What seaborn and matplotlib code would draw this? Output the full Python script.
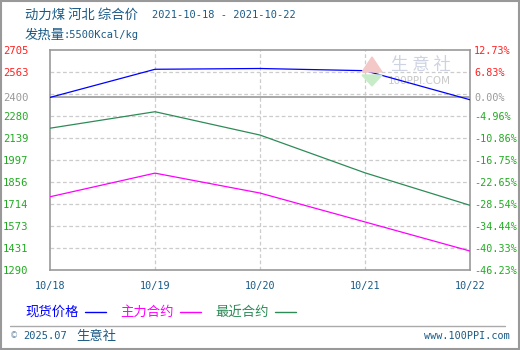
import numpy as np
import pandas as pd
import matplotlib
matplotlib.use("Agg")
import matplotlib.pyplot as plt
from matplotlib.patches import Rectangle, Polygon
import seaborn as sns

# ---- data ----
dates = ["10/18", "10/19", "10/20", "10/21", "10/22"]
spot = [2400, 2581, 2586, 2572, 2385]          # 现货价格
main_contract = [1761, 1913, 1785, 1599, 1412]  # 主力合约
near_contract = [2202, 2308, 2158, 1915, 1706]  # 最近合约
left_labels = ["1290", "1431", "1573", "1714", "1856", "1997",
               "2139", "2280", "2400", "2563", "2705"]
right_labels = ["-46.23%", "-40.33%", "-34.44%", "-28.54%", "-22.65%",
                "-16.75%", "-10.86%", "-4.96%", "0.00%", "6.83%", "12.73%"]
base_price = 2400
y_min, y_max = 1290, 2705

sns.set_style("white")
plt.rcParams["font.family"] = ["DejaVu Sans", "Noto Sans CJK SC"]

W, H = 520, 350
fig = plt.figure(figsize=(W / 100, H / 100), dpi=100)
fig.patch.set_facecolor("white")


def fx(px):
    return px / W


def fy(py):
    return 1 - py / H


ax = fig.add_axes([fx(50), fy(270), fx(420), 220 / H])

df = pd.DataFrame({
    "pos": list(range(len(dates))) * 3,
    "value": spot + main_contract + near_contract,
    "series": ["现货价格"] * 5 + ["主力合约"] * 5 + ["最近合约"] * 5,
})
palette = {"现货价格": "#0000ff", "主力合约": "#ff00ff", "最近合约": "#2e8b57"}

# grid: evenly spaced dashed lines plus the solid base line
grid_vals = np.linspace(y_min, y_max, 11)
for g in grid_vals[1:-1]:
    ax.axhline(g, color="#cccccc", lw=0.9, ls=(0, (3, 2)), zorder=1)
for i in range(1, len(dates) - 1):
    ax.axvline(i, color="#cccccc", lw=0.9, ls=(0, (3, 2)), zorder=1)
ax.axhline(base_price, color="#999999", lw=1.2, zorder=2)

sns.lineplot(data=df, x="pos", y="value", hue="series", palette=palette,
             ax=ax, legend=False, linewidth=0.9, zorder=3)

ax.set_xlim(0, len(dates) - 1)
ax.set_ylim(y_min, y_max)
ax.set_xlabel("")
ax.set_ylabel("")
for s in ax.spines.values():
    s.set_color("#999999")
    s.set_linewidth(1.2)

tick_font = ["DejaVu Sans Mono"]
tick_pos = [float(v) for v in left_labels]


def label_color(v):
    if v > base_price:
        return "#ff2020"
    if v == base_price:
        return "#999999"
    return "#22aa22"


ax.set_yticks(tick_pos)
ax.set_yticklabels(left_labels, family=tick_font, fontsize=7.6)
for t, v in zip(ax.get_yticklabels(), tick_pos):
    t.set_color(label_color(v))
ax.tick_params(axis="y", length=0, pad=15.5)

ax.set_xticks(range(len(dates)))
ax.set_xticklabels(dates, family=tick_font, fontsize=7.3, color="#1a5a86")
ax.tick_params(axis="x", length=0, pad=8)

ax2 = ax.twinx()
ax2.set_ylim(y_min, y_max)
ax2.set_yticks(tick_pos)
ax2.set_yticklabels(right_labels, family=tick_font, fontsize=7.3)
for t, v in zip(ax2.get_yticklabels(), tick_pos):
    t.set_color(label_color(v))
ax2.tick_params(axis="y", length=0, pad=3)
for s in ax2.spines.values():
    s.set_visible(False)

# watermark
ax.text(0.883, 0.93, "生 意 社", transform=ax.transAxes, fontsize=12.5,
        family=["Noto Sans CJK SC"], color="#cdd3e3", ha="center",
        va="center", zorder=0)
ax.text(0.88, 0.86, "100PPI.COM", transform=ax.transAxes, fontsize=7.5,
        color="#c8c8c8", ha="center", va="center", zorder=0)
fig.patches.append(Polygon([[fx(362), fy(72)], [fx(382), fy(72)],
                            [fx(372), fy(57)]], closed=True,
                           transform=fig.transFigure, color="#f5c8c8",
                           zorder=0))
fig.patches.append(Polygon([[fx(362), fy(75)], [fx(382), fy(75)],
                            [fx(372), fy(86)]], closed=True,
                           transform=fig.transFigure, color="#c8ecc8",
                           zorder=0))

# header
title_color = "#1a5a86"
cjk = ["Noto Sans CJK SC"]
cjk_size = 9.6
fig.text(fx(25), fy(15), "动力煤 河北 综合价", family=cjk, fontsize=cjk_size,
         color=title_color, va="center")
fig.text(fx(152), fy(15), "2021-10-18 - 2021-10-22", family=tick_font,
         fontsize=7.5, color=title_color, va="center")
fig.text(fx(25), fy(35), "发热量", family=cjk, fontsize=cjk_size,
         color=title_color, va="center")
fig.text(fx(64), fy(35), ":5500Kcal/kg", family=tick_font, fontsize=7.5,
         color=title_color, va="center")

# legend
legend_items = [("现货价格", 25), ("主力合约", 120), ("最近合约", 215)]
for name, x0 in legend_items:
    c = palette[name]
    fig.text(fx(x0), fy(312), name, family=cjk, fontsize=cjk_size, color=c,
             va="center")
    fig.add_artist(plt.Line2D([fx(x0 + 60), fx(x0 + 81)], [fy(312), fy(312)],
                              color=c, lw=1, transform=fig.transFigure))

# footer
fig.add_artist(plt.Line2D([fx(10), fx(505)], [fy(326), fy(326)],
                          color="#aaaaaa", lw=1, transform=fig.transFigure))
fig.text(fx(10), fy(336), "©", fontsize=6, color="#6a8aa8", va="center")
fig.text(fx(23), fy(336), "2025.07", family=tick_font, fontsize=7.5,
         color=title_color, va="center")
fig.text(fx(76), fy(336), "生意社", family=cjk, fontsize=cjk_size,
         color=title_color, va="center")
fig.text(fx(510), fy(336), "www.100PPI.com", family=tick_font, fontsize=7.3,
         color=title_color, va="center", ha="right")

# outer border
fig.patches.append(Rectangle((0.001, 0.002), 0.997, 0.996,
                             transform=fig.transFigure, fill=False,
                             edgecolor="#999999", lw=1.5))

fig.savefig("out.png", dpi=100)
